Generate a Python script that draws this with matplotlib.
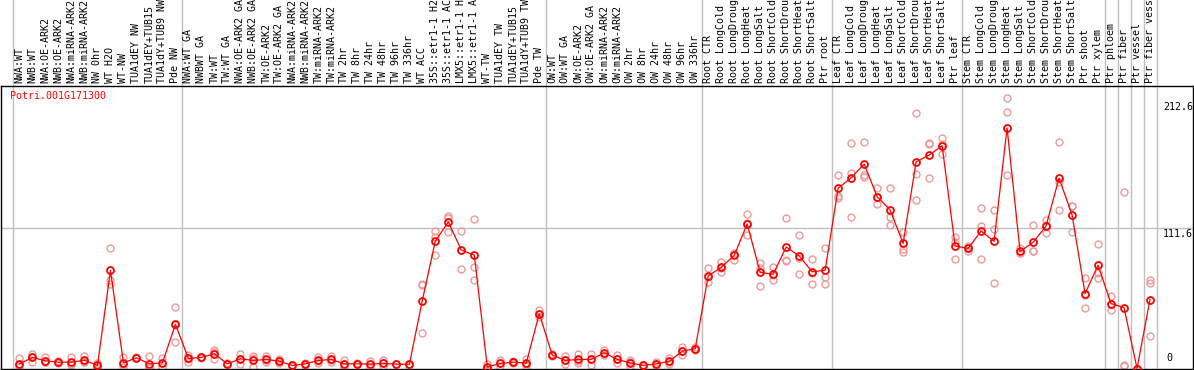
import numpy as np
import matplotlib
matplotlib.use('Agg')
import matplotlib.pyplot as plt
import matplotlib.transforms as mtransforms

gene = 'Potri.001G171300'

rotulos = [
    'NWA:WT', 'NWB:WT', 'NWA:OE-ARK2', 'NWB:OE-ARK2', 'NWA:miRNA-ARK2', 'NWB:miRNA-ARK2',
    'NW 0hr', 'WT H2O', 'WT-NW', 'TUA1dEY NW', 'TUA1dEY+TUB15', 'TUA1dY+TUB9 NW', 'Pde NW',
    'NWA:WT GA', 'NWBWT GA', 'TW:WT', 'TW:WT GA', 'NWA:OE-ARK2 GA', 'NWB:OE-ARK2 GA',
    'TW:OE-ARK2', 'TW:OE-ARK2 GA', 'NWA:miRNA-ARK2', 'NWB:miRNA-ARK2', 'TW:miRNA-ARK2',
    'TW:miRNA-ARK2', 'TW 2hr', 'TW 8hr', 'TW 24hr', 'TW 48hr', 'TW 96hr', 'TW 336hr',
    'WT ACC', '35S::etr1-1 H2', '35S::etr1-1 AC', 'LMX5::etr1-1 H', 'LMX5::etr1-1 A',
    'WT-TW', 'TUA1dEY TW', 'TUA1dEY+TUB15', 'TUA1dY+TUB9 TW', 'Pde TW',
    'OW:WT', 'OW:WT GA', 'OW:OE-ARK2', 'OW:OE-ARK2 GA', 'OW:miRNA-ARK2', 'OW:miRNA-ARK2',
    'OW 2hr', 'OW 8hr', 'OW 24hr', 'OW 48hr', 'OW 96hr', 'OW 336hr',
    'Root CTR', 'Root LongCold', 'Root LongDroug', 'Root LongHeat', 'Root LongSalt',
    'Root ShortCold', 'Root ShortDrou', 'Root ShortHeat', 'Root ShortSalt', 'Ptr root',
    'Leaf CTR', 'Leaf LongCold', 'Leaf LongDroug', 'Leaf LongHeat', 'Leaf LongSalt',
    'Leaf ShortCold', 'Leaf ShortDrou', 'Leaf ShortHeat', 'Leaf ShortSalt', 'Ptr leaf',
    'Stem CTR', 'Stem LongCold', 'Stem LongDroug', 'Stem LongHeat', 'Stem LongSalt',
    'Stem ShortCold', 'Stem ShortDrou', 'Stem ShortHeat', 'Stem ShortSalt', 'Ptr shoot',
    'Ptr xylem', 'Ptr phloem', 'Ptr fiber', 'Ptr vessel', 'Ptr fiber vess',
]

medias = [
    3.7, 8.8, 6.1, 5.0, 5.0, 6.6, 2.4, 77.9, 4.5, 8.5, 3.7, 4.5, 35.1,
    8.0, 8.8, 11.7, 3.7, 7.7, 6.4, 7.2, 5.8, 2.4, 3.7, 6.4, 7.2, 3.7, 3.7, 3.5, 4.0, 3.5, 3.2,
    54.0, 101.2, 116.4, 94.1, 90.1, 1.1, 4.0, 5.0, 4.3, 43.6,
    10.6, 6.4, 7.2, 7.2, 12.5, 7.2, 4.5, 2.4, 3.7, 5.6, 13.8, 15.7,
    73.6, 80.3, 89.8, 114.8, 76.3, 74.9, 96.5, 89.5, 76.8, 78.1,
    143.2, 151.5, 162.4, 136.5, 125.9, 99.4, 164.2, 169.5, 177.0, 97.3,
    95.4, 109.2, 101.0, 191.1, 93.0, 100.2, 113.2, 151.2, 122.0, 59.5,
    82.1, 51.6, 48.4, 0.0, 54.8,
]

replicas = [
    [8.2, 1.0, 3.0], [11.7, 5.0, 9.5], [8.8, 4.9, 5.0], [6.0, 4.0, 5.0], [9.0, 3.0, 3.5],
    [10.0, 5.0, 5.0], [4.2, 1.0, 2.0], [95.4, 70.1, 67.5], [9.0, 1.0, 3.5], [8.5, 8.0, 9.0],
    [9.8, 1.0, 0.5], [8.2, 1.0, 4.5], [49.2, 21.3, 34.8],
    [10.9, 5.5, 7.5], [9.5, 8.0, 9.0], [14.4, 7.5, 13.0], [3.7, 3.5, 4.0], [11.7, 3.7, 7.7],
    [10.3, 1.0, 8.0], [10.1, 5.0, 6.5], [7.7, 4.0, 5.8], [2.4, 2.0, 3.0], [3.7, 3.0, 4.0],
    [9.0, 4.3, 6.0], [9.8, 4.8, 7.0], [6.4, 1.0, 3.7], [3.7, 3.5, 4.0], [5.9, 1.1, 3.5],
    [6.4, 1.6, 4.0], [3.5, 3.2, 3.8], [3.2, 3.0, 3.5],
    [66.2, 28.2, 67.5], [109.5, 90.1, 104.3], [121.2, 108.7, 119.5], [109.0, 78.7, 94.5],
    [118.5, 80.3, 70.1], [3.3, 0.0, 0.0], [6.4, 1.6, 4.0], [5.6, 4.5, 5.0], [7.7, 1.6, 3.6],
    [46.8, 41.0, 43.0],
    [10.6, 10.0, 11.2], [9.6, 3.2, 6.4], [11.2, 4.3, 6.0], [11.7, 2.6, 7.2], [14.4, 10.4, 12.5],
    [10.4, 4.0, 7.2], [6.4, 1.9, 5.0], [2.4, 2.0, 2.8], [5.1, 2.9, 3.2], [8.2, 5.0, 3.5],
    [17.0, 10.4, 14.0], [17.0, 14.4, 15.7],
    [79.5, 68.8, 72.5], [84.8, 76.3, 80.0], [92.0, 86.3, 91.0], [122.8, 106.0, 115.6],
    [83.9, 80.0, 65.6], [80.3, 70.1, 74.3], [119.3, 86.1, 85.3], [106.0, 74.9, 87.5],
    [86.6, 75.7, 67.5], [95.4, 72.5, 67.5],
    [153.8, 137.1, 135.3], [179.1, 155.2, 120.4], [179.9, 153.8, 152.0], [143.2, 130.5, 136.0],
    [143.2, 120.4, 114.0], [108.7, 95.0, 92.7], [203.3, 154.4, 133.9], [179.4, 151.2, 178.0],
    [183.1, 170.0, 178.0], [104.7, 86.6, 100.6],
    [97.5, 93.0, 95.7], [127.3, 113.5, 86.6], [125.9, 111.1, 68.3], [215.0, 203.8, 153.8],
    [96.0, 91.5, 91.5], [114.0, 93.5, 93.0], [118.0, 107.4, 114.2], [179.9, 125.9, 148.0],
    [129.1, 108.2, 128.7], [71.5, 48.4, 58.6],
    [98.8, 71.5, 75.9], [57.4, 46.2, 51.2], [140.3, 2.9, 2.0], [0.0, 0.0, 0.0],
    [70.1, 68.3, 26.1],
]

# início de cada grupo (linhas verticais cinzas)
inicio_grupos = [0, 13, 41, 53, 63, 73, 84, 85, 86, 87, 88]

# valores de referência do eixo y
marcas_y = [0, 111.6, 212.6]
y_max = 224.4

# --------------------------------- // ---------------------------------

W, H = 1194, 370
fig = plt.figure(figsize=(W / 100, H / 100), dpi=100)
ax = fig.add_axes([0.5 / W, 1.5 / H, 1192.5 / W, 282.5 / H])

x = np.arange(len(rotulos))
fonte = 'DejaVu Sans Mono'

# Linhas de separação dos grupos (sobem até a área dos rótulos)
for g in inicio_grupos:
    ax.axvline(g - 0.5, ymin=0, ymax=1.4, color='#c0c0c0', lw=1, clip_on=False, zorder=0)
ax.axhline(marcas_y[1], color='#c0c0c0', lw=1, zorder=0)

# Replicatas
for xi, reps in zip(x, replicas):
    ax.plot([xi] * len(reps), reps, 'o', ms=5, mfc='none', mec='#ee9a9a', mew=1.0, zorder=2)

# Média
ax.plot(x, medias, '-', color='#ff0000', lw=0.9, zorder=3)
ax.plot(x, medias, 'o', ms=5, mfc='none', mec='#ff0000', mew=1.3, zorder=4)

ax.set_xlim(-19 / 13, (1193 - 19) / 13)
ax.set_ylim(0, y_max)
ax.set_xticks([])
ax.set_yticks([])
for s in ax.spines.values():
    s.set_color('black')
    s.set_linewidth(1)

# Rótulos verticais no topo
trans = mtransforms.blended_transform_factory(ax.transData, ax.transAxes)
for xi, r in zip(x, rotulos):
    ax.annotate(r, xy=(xi, 1), xycoords=trans, xytext=(0, 2), textcoords='offset points',
                rotation=90, ha='center', va='bottom', fontsize=7.2, family=fonte,
                annotation_clip=False)

# Nome do gene
ax.text(10 / 1193, 1 - 5 / 282.5, gene, transform=ax.transAxes, color='#ff0000',
        fontsize=7.2, family=fonte, ha='left', va='top')

# Valores do eixo y à direita
tx = mtransforms.blended_transform_factory(ax.transAxes, ax.transData)
for v in marcas_y:
    txt = '%g' % v
    if v == 0:
        ax.annotate(txt, xy=(1166 / 1193, v), xycoords=tx, xytext=(0, 4),
                    textcoords='offset points', fontsize=7.2, family=fonte,
                    ha='left', va='bottom')
    else:
        ax.annotate(txt, xy=(1163 / 1193, v), xycoords=tx, xytext=(0, -1),
                    textcoords='offset points', fontsize=7.2, family=fonte,
                    ha='left', va='top')

plt.savefig('out.png', dpi=100)
